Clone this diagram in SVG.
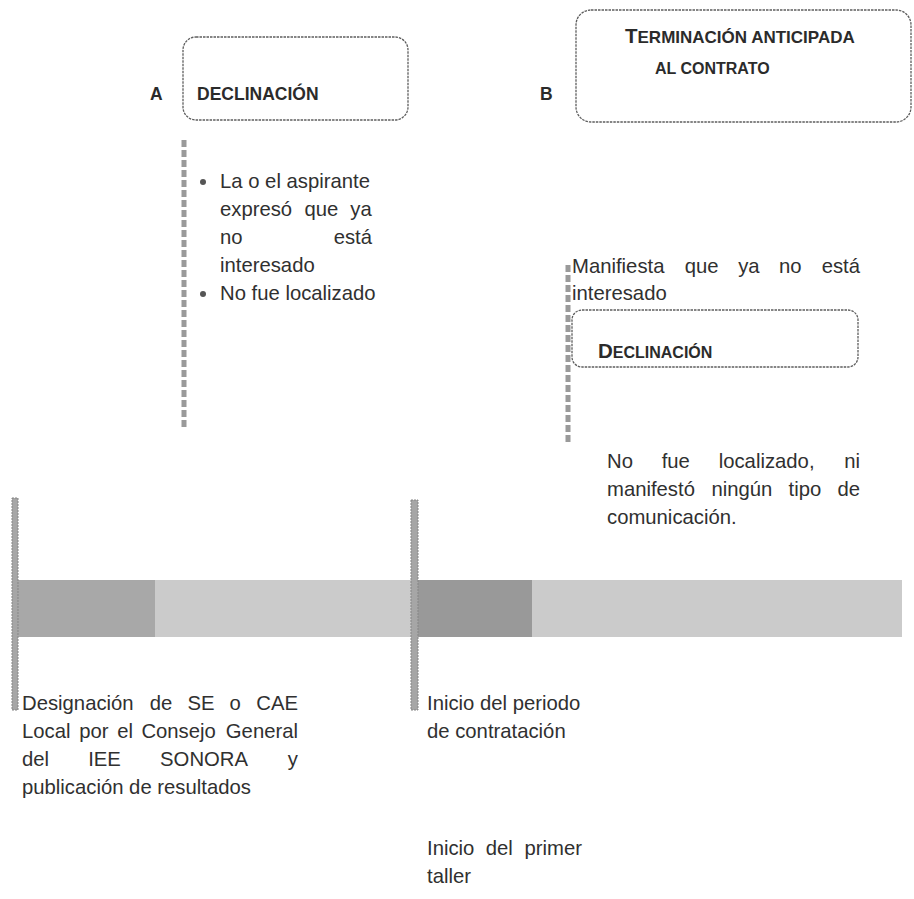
<svg xmlns="http://www.w3.org/2000/svg" width="914" height="899" viewBox="0 0 914 899">
<style>
  .t { font-family: "Liberation Sans", Arial, sans-serif; font-size: 20.3px; fill: #303030; }
  .lab { font-family: "Liberation Sans", Arial, sans-serif; font-size: 17.5px; font-weight: bold; fill: #2b2b2b; }
  .sc { font-family: "Liberation Sans", Arial, sans-serif; font-size: 16px; font-weight: bold; fill: #2b2b2b; }
  .sc17 { font-size: 17px; }
  .big { font-size: 20.5px; }
  .box { fill: none; stroke: #5e5e5e; stroke-width: 1.3; stroke-dasharray: 2.5 1; }
  .dots { stroke: #9a9a9a; stroke-width: 5; stroke-dasharray: 7 3; fill: none; }
  .bar { fill: #a6a6a6; stroke: #858585; stroke-width: 1; stroke-dasharray: 2 1; }
</style>

<g id="label-A"><text class="lab" x="150" y="100">A</text></g>
<g id="node-declinacion-A">
  <rect class="box" x="183" y="37" width="225" height="83" rx="13"/>
  <text class="lab" x="197" y="100">DECLINACIÓN</text>
</g>

<g id="label-B"><text class="lab" x="540" y="100">B</text></g>
<g id="node-terminacion">
  <rect class="box" x="576" y="10" width="335" height="112" rx="15"/>
  <text class="sc sc17" x="625" y="43"><tspan class="big">T</tspan>ERMINACIÓN ANTICIPADA</text>
  <text class="sc" x="655" y="74">AL CONTRATO</text>
</g>

<g id="connectors">
  <line class="dots" x1="184" y1="140" x2="184" y2="428"/>
  <line class="dots" x1="568" y1="265" x2="568" y2="442"/>
</g>

<g id="list-A">
  <circle cx="203" cy="182" r="3" fill="#555"/>
  <circle cx="203" cy="294" r="3" fill="#555"/>
  <text class="t" x="220" y="188">La o el aspirante</text>
  <text class="t" y="216"><tspan x="220">expresó</tspan><tspan x="304.5">que</tspan><tspan x="350.3">ya</tspan></text>
  <text class="t" y="244"><tspan x="220">no</tspan></text>
  <text class="t" x="372" y="244" text-anchor="end">está</text>
  <text class="t" x="220" y="272">interesado</text>
  <text class="t" x="220" y="300">No fue localizado</text>
</g>

<g id="text-B">
  <text class="t" y="273"><tspan x="572">Manifiesta</tspan><tspan x="684.7">que</tspan><tspan x="738.2">ya</tspan><tspan x="779.1">no</tspan></text>
  <text class="t" x="860" y="273" text-anchor="end">está</text>
  <text class="t" x="572" y="300">interesado</text>
</g>

<g id="node-declinacion-B">
  <rect class="box" x="572" y="310" width="286" height="57" rx="10"/>
  <text class="sc" x="598" y="358"><tspan class="big">D</tspan>ECLINACIÓN</text>
</g>

<g id="text-B2">
  <text class="t" y="468"><tspan x="607">No</tspan><tspan x="661.7">fue</tspan><tspan x="718.7">localizado,</tspan></text>
  <text class="t" x="860" y="468" text-anchor="end">ni</text>
  <text class="t" y="496"><tspan x="607">manifestó</tspan><tspan x="711.5">ningún</tspan><tspan x="788.6">tipo</tspan></text>
  <text class="t" x="860" y="496" text-anchor="end">de</text>
  <text class="t" x="607" y="524">comunicación.</text>
</g>

<g id="timeline">
  <rect x="12" y="580" width="890" height="57" fill="#cbcbcb"/>
  <rect x="12" y="580" width="143" height="57" fill="#a8a8a8"/>
  <rect x="418" y="580" width="114" height="57" fill="#999999"/>
  <rect class="bar" x="12" y="498" width="6" height="212"/>
  <rect class="bar" x="411" y="500" width="7" height="210"/>
</g>

<g id="event-1">
  <text class="t" y="710"><tspan x="22">Designación</tspan><tspan x="149.7">de</tspan><tspan x="187.4">SE</tspan><tspan x="229.6">o</tspan></text>
  <text class="t" x="298" y="710" text-anchor="end">CAE</text>
  <text class="t" y="738"><tspan x="22">Local</tspan><tspan x="79.3">por</tspan><tspan x="117.2">el</tspan><tspan x="141.4">Consejo</tspan></text>
  <text class="t" x="298" y="738" text-anchor="end">General</text>
  <text class="t" y="766"><tspan x="22">del</tspan><tspan x="88.2">IEE</tspan><tspan x="160.1">SONORA</tspan></text>
  <text class="t" x="298" y="766" text-anchor="end">y</text>
  <text class="t" x="22" y="794">publicación de resultados</text>
</g>

<g id="event-2">
  <text class="t" x="427" y="710">Inicio del periodo</text>
  <text class="t" x="427" y="738">de contratación</text>
</g>

<g id="event-3">
  <text class="t" y="855"><tspan x="427">Inicio</tspan><tspan x="485.7">del</tspan></text>
  <text class="t" x="582" y="855" text-anchor="end">primer</text>
  <text class="t" x="427" y="883">taller</text>
</g>
</svg>
